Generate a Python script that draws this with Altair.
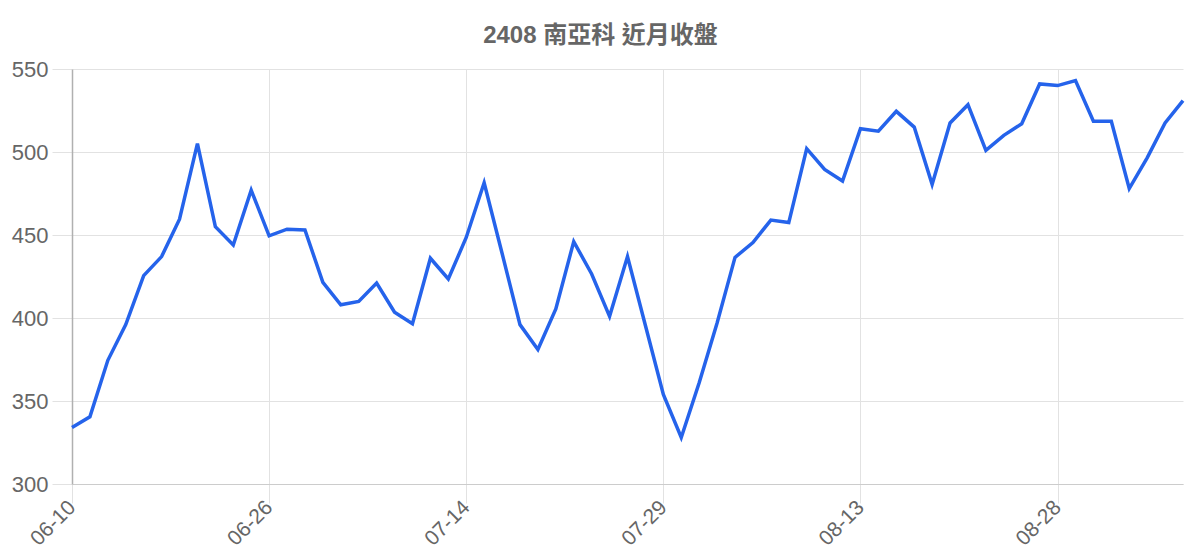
import altair as alt
import pandas as pd

dates = [
    "06-10", "06-11", "06-12", "06-13", "06-16", "06-17", "06-18", "06-19", "06-20", "06-23", "06-24",
    "06-26", "06-27", "06-30", "07-01", "07-02", "07-03", "07-04", "07-07", "07-08", "07-09", "07-11",
    "07-14", "07-15", "07-16", "07-17", "07-18", "07-21", "07-22", "07-23", "07-24", "07-25", "07-28",
    "07-29", "07-30", "07-31", "08-01", "08-04", "08-05", "08-06", "08-07", "08-08", "08-11", "08-12",
    "08-13", "08-14", "08-15", "08-18", "08-19", "08-20", "08-21", "08-22", "08-25", "08-26", "08-27",
    "08-28", "08-29", "09-01", "09-02", "09-03", "09-04", "09-05", "09-08",
]
closes = [
    334, 340.5, 374.5, 396, 425.5, 437, 459.5, 505, 455, 444, 477,
    449.5, 453.5, 453, 421.5, 408, 410, 421, 403.5, 396.5, 436, 423.5,
    448.5, 481.5, 439, 396, 381, 405.5, 446, 426.5, 401, 437, 395.5,
    354, 328, 361, 397, 436.5, 445.5, 459, 457.5, 502, 489.5, 482.5,
    514, 512.5, 524.5, 515, 480.5, 517.5, 528.5, 501, 510, 517, 541,
    540, 543, 518.5, 518.5, 478, 496.5, 517.5, 531,
]
tick_labels = ["06-10", "06-26", "07-14", "07-29", "08-13", "08-28"]
title_text = "2408 南亞科 近月收盤"

df = pd.DataFrame({"date": dates, "close": closes})

FONT = "Liberation Sans, Arial, Noto Sans CJK TC"
GRID = "#e2e2e2"

chart = (
    alt.Chart(df)
    .mark_line(color="#2563eb", strokeWidth=3.5, strokeJoin="miter")
    .encode(
        x=alt.X(
            "date:O",
            sort=dates,
            scale=alt.Scale(type="point", padding=0),
            axis=alt.Axis(
                title=None,
                values=tick_labels,
                grid=True,
                gridColor=GRID,
                domain=True,
                domainColor="#cccccc",
                ticks=True,
                tickColor=GRID,
                tickSize=19,
                labelAngle=-45,
                labelAlign="right",
                labelBaseline="middle",
                labelPadding=1,
                labelFontSize=21,
                labelColor="#666666",
                labelFont=FONT,
            ),
        ),
        y=alt.Y(
            "close:Q",
            scale=alt.Scale(domain=[300, 550], nice=False, zero=False),
            axis=alt.Axis(
                title=None,
                values=[300, 350, 400, 450, 500, 550],
                grid=True,
                gridColor=GRID,
                domain=True,
                domainColor="#b0b0b0",
                domainWidth=1.5,
                ticks=True,
                tickColor=GRID,
                tickSize=20,
                labelPadding=4,
                labelFontSize=22,
                labelColor="#666666",
                labelFont=FONT,
            ),
        ),
    )
    .properties(
        width=1111,
        height=415,
        autosize=alt.AutoSizeParams(type="none"),
        padding={"left": 64, "top": 61, "right": 9, "bottom": 68},
        title=alt.TitleParams(
            text=title_text,
            font=FONT,
            fontSize=24,
            fontWeight="bold",
            color="#666666",
            anchor="middle",
            frame="group",
            dx=-27,
            offset=10,
        ),
    )
    .configure_view(stroke=None)
)

chart.save("out.html", embed_options={"renderer": "svg", "actions": False})
